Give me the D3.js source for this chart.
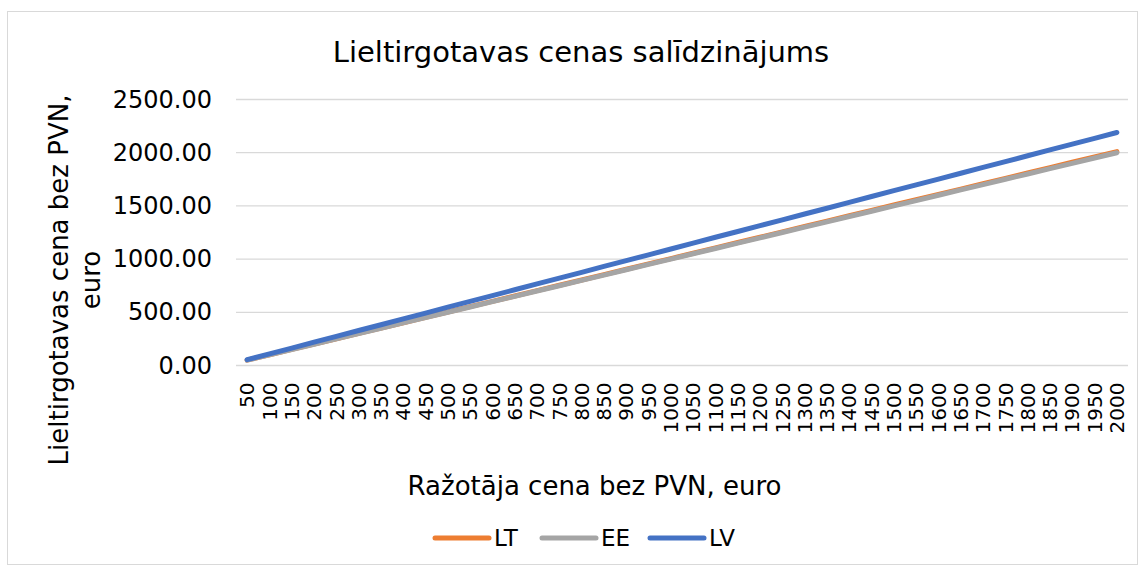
<!DOCTYPE html>
<html>
<head>
<meta charset="utf-8">
<script src="https://cdn.jsdelivr.net/npm/d3@7"></script>
<style>
  body { margin: 0; background: #fff; }
  text { font-family: "DejaVu Sans", Verdana, sans-serif; fill: #000; }
</style>
</head>
<body>
<script>
// chart size
var W = 1145, H = 568;
var margin = {top: 99.5, right: 17, bottom: 202.5, left: 236},
    w = 1128 - margin.left,
    h = 365.5 - margin.top;

// ---------------- data ----------------
var prices = [50, 100, 150, 200, 250, 300, 350, 400, 450, 500, 550, 600, 650, 700, 750, 800, 850, 900, 950, 1000,
              1050, 1100, 1150, 1200, 1250, 1300, 1350, 1400, 1450, 1500, 1550, 1600, 1650, 1700, 1750, 1800, 1850, 1900, 1950, 2000];
var LT = [50, 101, 151, 201, 251, 302, 352, 402, 452, 503, 553, 603, 653, 704, 754, 804, 854, 905, 955, 1005,
          1055, 1106, 1156, 1206, 1256, 1307, 1357, 1407, 1457, 1508, 1558, 1608, 1658, 1709, 1759, 1809, 1859, 1910, 1960, 2010];
var EE = [50, 100, 150, 200, 250, 300, 350, 400, 450, 500, 550, 600, 650, 700, 750, 800, 850, 900, 950, 1000,
          1050, 1100, 1150, 1200, 1250, 1300, 1350, 1400, 1450, 1500, 1550, 1600, 1650, 1700, 1750, 1800, 1850, 1900, 1950, 2000];
var LV = [55, 110, 164, 219, 274, 329, 383, 438, 493, 548, 602, 657, 712, 767, 821, 876, 931, 986, 1040, 1095,
          1150, 1205, 1259, 1314, 1369, 1424, 1478, 1533, 1588, 1643, 1697, 1752, 1807, 1862, 1916, 1971, 2026, 2081, 2135, 2190];
var seriesNames = ["LT", "EE", "LV"];
var seriesColors = ["#ED7D31", "#A5A5A5", "#4472C4"];
var yTicks = [0, 500, 1000, 1500, 2000, 2500];

var series = [LT, EE, LV].map(function(vals, i) {
    return {name: seriesNames[i], color: seriesColors[i], values: vals};
});

var root = d3.select("body").append("svg")
    .attr("width", W)
    .attr("height", H);

// outer chart border
root.append("rect")
    .attr("x", 7.5).attr("y", 11.5)
    .attr("width", 1130).attr("height", 553)
    .attr("fill", "#fff")
    .attr("stroke", "#d9d9d9")
    .attr("stroke-width", 1);

var svg = root.append("g")
    .attr("transform", "translate(" + margin.left + "," + margin.top + ")");

var x = d3.scaleBand().domain(prices).range([0, w]);
var y = d3.scaleLinear().domain([0, 2500]).range([h, 0]);

// gridlines
svg.append("g")
    .selectAll("line")
    .data(yTicks)
    .enter().append("line")
    .attr("x1", 0).attr("x2", w)
    .attr("y1", function(d) { return y(d); })
    .attr("y2", function(d) { return y(d); })
    .attr("stroke", "#d9d9d9")
    .attr("stroke-width", 1.3);

// y axis labels
var yAxis = d3.axisLeft(y).tickValues(yTicks).tickSize(0).tickPadding(24)
    .tickFormat(d3.format(".2f"));
svg.append("g")
    .call(yAxis)
    .call(function(g) { g.select(".domain").remove(); })
    .selectAll("text")
    .style("font-size", "24px")
    .attr("font-family", null);

// x axis labels (rotated)
var xAxis = d3.axisBottom(x).tickSize(0);
var gx = svg.append("g")
    .attr("transform", "translate(0," + h + ")")
    .call(xAxis);
gx.select(".domain").remove();
gx.selectAll("text")
    .style("font-size", "20px")
    .attr("font-family", null)
    .attr("text-anchor", "end")
    .attr("transform", "rotate(-90)")
    .attr("x", -17)
    .attr("y", 0)
    .attr("dy", "0.36em");

// lines
var line = d3.line()
    .x(function(d, i) { return x(prices[i]) + x.bandwidth() / 2; })
    .y(function(d) { return y(d); });

svg.selectAll(".series")
    .data(series)
    .enter().append("path")
    .attr("class", "series")
    .attr("d", function(d) { return line(d.values); })
    .attr("fill", "none")
    .attr("stroke", function(d) { return d.color; })
    .attr("stroke-width", 5)
    .attr("stroke-linecap", "round")
    .attr("stroke-linejoin", "round");

// title
root.append("text")
    .attr("x", 581).attr("y", 62)
    .attr("text-anchor", "middle")
    .style("font-size", "29px")
    .text("Lieltirgotavas cenas salīdzinājums");

// x axis title
root.append("text")
    .attr("x", 594.5).attr("y", 495)
    .attr("text-anchor", "middle")
    .style("font-size", "26px")
    .text("Ražotāja cena bez PVN, euro");

// y axis title (two lines)
var yt = root.append("text")
    .attr("transform", "translate(68,280) rotate(-90)")
    .attr("text-anchor", "middle")
    .style("font-size", "26px");
yt.append("tspan").attr("x", 0).attr("y", 0).text("Lieltirgotavas cena bez PVN,");
yt.append("tspan").attr("x", 0).attr("y", 32).text("euro");

// legend
var legendX = [435, 542, 650];
var lg = root.append("g").selectAll("g")
    .data(series)
    .enter().append("g")
    .attr("transform", function(d, i) { return "translate(" + legendX[i] + ",538)"; });
lg.append("line")
    .attr("x1", 0).attr("x2", 54)
    .attr("stroke", function(d) { return d.color; })
    .attr("stroke-width", 5)
    .attr("stroke-linecap", "round");
lg.append("text")
    .attr("x", 59).attr("y", 0)
    .attr("dy", "0.36em")
    .style("font-size", "23px")
    .text(function(d) { return d.name; });
</script>
</body>
</html>
